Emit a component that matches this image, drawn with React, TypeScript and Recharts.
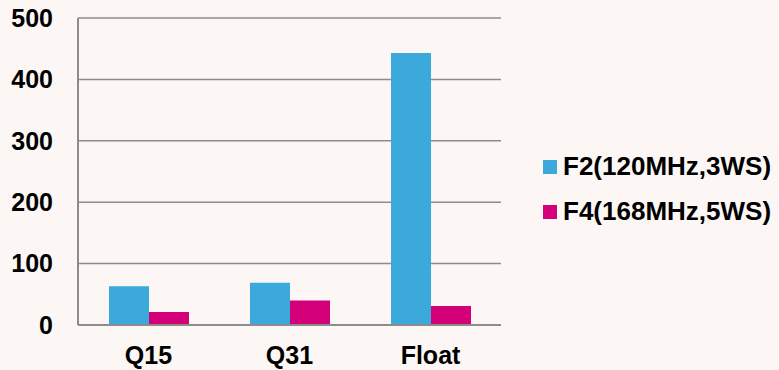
import React from 'react';
import { BarChart, Bar, XAxis, YAxis, CartesianGrid, Legend } from 'recharts';

const categories = ['Q15', 'Q31', 'Float'];
const f2Values = [63, 69, 443];
const f4Values = [21, 40, 31];
const yTicks = [0, 100, 200, 300, 400, 500];
const seriesNames = ['F2(120MHz,3WS)', 'F4(168MHz,5WS)'];

const data = categories.map((name, i) => ({
  name,
  f2: f2Values[i],
  f4: f4Values[i],
}));

const font = '"Liberation Sans", Arial, sans-serif';
const tickStyle = { fill: '#000', fontFamily: font, fontWeight: 'bold', fontSize: 25 };

const renderLegend = (props: any) => {
  const { payload } = props;
  return (
    <div style={{ fontFamily: font, fontWeight: 'bold', fontSize: 26, color: '#000' }}>
      {payload.map((entry: any, i: number) => (
        <div key={i} style={{ display: 'flex', alignItems: 'center', height: 45, whiteSpace: 'nowrap' }}>
          <span style={{ display: 'inline-block', width: 14, height: 14, background: entry.color, marginRight: 6 }} />
          <span>{entry.value}</span>
        </div>
      ))}
    </div>
  );
};

export default function App() {
  return (
    <div style={{ position: 'absolute', left: 0, top: 0, width: 779, height: 370, background: '#fcf7f4' }}>
      <BarChart
        width={779}
        height={370}
        data={data}
        barSize={40}
        barGap={0}
        margin={{ top: 18, right: 42, bottom: 0, left: 0 }}
      >
        <CartesianGrid vertical={false} stroke="#8c8c8c" strokeWidth={1.5} />
        <XAxis
          dataKey="name"
          height={45}
          tickLine={false}
          tickSize={0}
          tickMargin={21}
          axisLine={{ stroke: '#8c8c8c', strokeWidth: 2 }}
          tick={tickStyle}
        />
        <YAxis
          width={78}
          domain={[0, 500]}
          ticks={yTicks}
          tickLine={false}
          tickSize={0}
          tickMargin={25}
          axisLine={{ stroke: '#8c8c8c', strokeWidth: 2 }}
          tick={tickStyle}
        />
        <Legend
          layout="vertical"
          align="right"
          verticalAlign="top"
          content={renderLegend}
          wrapperStyle={{ left: 543, top: 144, width: 236 }}
        />
        <Bar dataKey="f2" name={seriesNames[0]} fill="#3ba9db" isAnimationActive={false} />
        <Bar dataKey="f4" name={seriesNames[1]} fill="#d4007a" isAnimationActive={false} />
      </BarChart>
    </div>
  );
}
